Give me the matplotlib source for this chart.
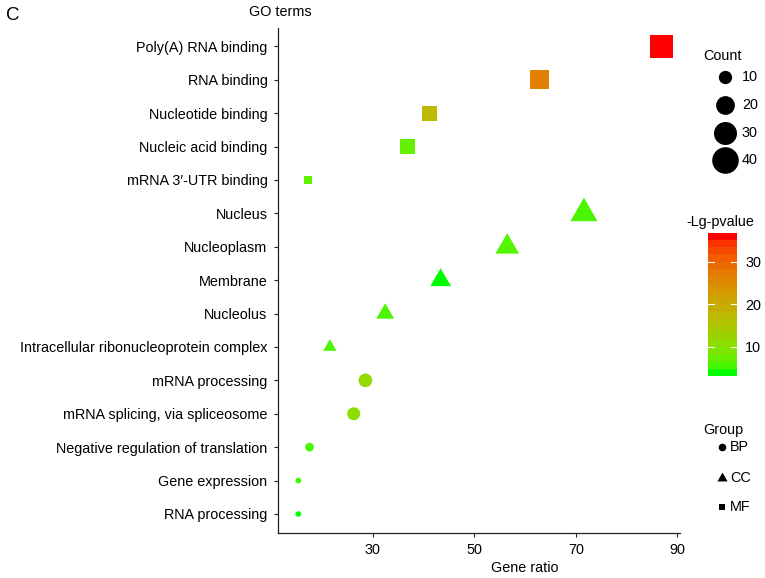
import numpy as np
import matplotlib
matplotlib.use("Agg")
import matplotlib.pyplot as plt
from matplotlib.path import Path
from matplotlib.colors import ListedColormap

plt.rcParams['font.family'] = ['Liberation Sans', 'DejaVu Sans']

# === データ（上から順） ===
terms = ["Poly(A) RNA binding", "RNA binding", "Nucleotide binding",
         "Nucleic acid binding", "mRNA 3\u2032-UTR binding",
         "Nucleus", "Nucleoplasm", "Membrane", "Nucleolus",
         "Intracellular ribonucleoprotein complex",
         "mRNA processing", "mRNA splicing, via spliceosome",
         "Negative regulation of translation", "Gene expression",
         "RNA processing"]
groups = ["MF", "MF", "MF", "MF", "MF",
          "CC", "CC", "CC", "CC", "CC",
          "BP", "BP", "BP", "BP", "BP"]
gene_ratio = [86.9, 62.9, 41.2, 36.9, 17.3,
              71.6, 56.5, 43.4, 32.5, 21.6,
              28.6, 26.3, 17.6, 15.4, 15.4]
counts = [38, 25, 16, 15, 5,
          23, 17.5, 13.3, 10, 5.6,
          10.6, 9.6, 4.3, 1.8, 1.8]
lg_pvalue = [36.7, 27.0, 17.5, 6.5, 6.0,
             5.0, 5.5, 3.2, 5.0, 5.0,
             11.0, 10.0, 5.0, 4.3, 3.3]

count_breaks = [10, 20, 30, 40]
color_ticks = [10, 20, 30]
group_order = ["BP", "CC", "MF"]

W, H = 765, 578


# === 色: green -> red を Lab 空間で補間 ===
def _f(t):
    d = 6 / 29
    return np.where(t > d ** 3, np.cbrt(t), t / (3 * d * d) + 4 / 29)


def _finv(t):
    d = 6 / 29
    return np.where(t > d, t ** 3, 3 * d * d * (t - 4 / 29))


M = np.array([[0.4124564, 0.3575761, 0.1804375],
              [0.2126729, 0.7151522, 0.0721750],
              [0.0193339, 0.1191920, 0.9503041]])
WHITE = np.array([0.95047, 1.0, 1.08883])


def rgb2lab(rgb):
    c = np.asarray(rgb, float)
    lin = np.where(c <= 0.04045, c / 12.92, ((c + 0.055) / 1.055) ** 2.4)
    xyz = M @ lin / WHITE
    fx, fy, fz = _f(xyz)
    return np.array([116 * fy - 16, 500 * (fx - fy), 200 * (fy - fz)])


def lab2rgb(lab):
    L, a, b = lab
    fy = (L + 16) / 116
    fx = fy + a / 500
    fz = fy - b / 200
    xyz = _finv(np.array([fx, fy, fz])) * WHITE
    lin = np.linalg.solve(M, xyz)
    lin = np.clip(lin, 0, 1)
    c = np.where(lin <= 0.0031308, 12.92 * lin, 1.055 * lin ** (1 / 2.4) - 0.055)
    return np.clip(c, 0, 1)


lab_lo = rgb2lab([0, 1, 0])
lab_hi = rgb2lab([1, 0, 0])
ramp = [lab2rgb(lab_lo + (lab_hi - lab_lo) * t) for t in np.linspace(0, 1, 256)]
cmap = ListedColormap(ramp)
vmin, vmax = min(lg_pvalue), max(lg_pvalue)

# 正三角形マーカー
TRI = Path([(0, 1), (-0.866, -0.5), (0.866, -0.5), (0, 1)],
           [Path.MOVETO, Path.LINETO, Path.LINETO, Path.CLOSEPOLY])
MARKERS = {"BP": "o", "CC": TRI, "MF": "s"}
AREA_K = {"BP": 1.0, "CC": 2.418, "MF": 0.785}   # 同じ面積になる係数


def marker_s(count, grp):
    d2 = 9.145 * np.asarray(count, float)   # 円の直径^2 (pt^2)
    return d2 * AREA_K[grp]


# === 描画 ===
fig = plt.figure(figsize=(W / 100, H / 100), dpi=100)
ax = fig.add_axes([278 / W, 45 / H, 402 / W, 505 / H])

n = len(terms)
ypos = np.arange(n)[::-1]
for g in group_order:
    idx = [i for i in range(n) if groups[i] == g]
    ax.scatter([gene_ratio[i] for i in idx], [ypos[i] for i in idx],
               s=[marker_s(counts[i], g) for i in idx],
               c=[lg_pvalue[i] for i in idx], cmap=cmap, vmin=vmin, vmax=vmax,
               marker=MARKERS[g], linewidths=0, zorder=3)

ax.set_xlim(11.4, 90.5)
ax.set_ylim(-0.57, n - 1 + 0.55)
ax.set_yticks(ypos)
ax.set_yticklabels(terms)
ax.set_xticks([30, 50, 70, 90])
for s in ["top", "right"]:
    ax.spines[s].set_visible(False)
for s in ["left", "bottom"]:
    ax.spines[s].set_linewidth(0.9)
    ax.spines[s].set_color("#222222")
ax.tick_params(axis="both", length=3, width=0.8, colors="#222222",
               labelsize=10.4, labelcolor="black", pad=4.5)
ax.tick_params(axis="x", pad=4)

# 全体オーバーレイ（ピクセル座標）
ov = fig.add_axes([0, 0, 1, 1], zorder=5)
ov.set_xlim(0, W)
ov.set_ylim(H, 0)
ov.axis("off")

ov.text(6, 16, "C", fontsize=13.5, ha="left", va="center")
ov.text(280, 12, "GO terms", fontsize=10.4, ha="center", va="center")
ov.text(525, 568, "Gene ratio", fontsize=10.4, ha="center", va="center")

# Count 凡例
ov.text(703, 56, "Count", fontsize=10.4, ha="left", va="center")
for k, cb in enumerate(count_breaks):
    yy = 77 + k * 27.8
    ov.scatter([725], [yy], s=marker_s(cb, "BP"), c="black", marker="o", linewidths=0)
    ov.text(742, yy, str(cb), fontsize=10.4, ha="left", va="center")

# -Lg-pvalue カラーバー
ov.text(720, 222, "-Lg-pvalue", fontsize=10.4, ha="center", va="center")
cax = fig.add_axes([708 / W, 1 - 376 / H, 29 / W, 143 / H], zorder=6)
grad = np.linspace(vmin, vmax, 20).reshape(-1, 1)
cax.imshow(grad, cmap=cmap, vmin=vmin, vmax=vmax, origin="lower", aspect="auto",
           extent=[0, 1, vmin, vmax], interpolation="nearest")
cax.set_xlim(0, 1)
cax.set_ylim(vmin, vmax)
cax.set_xticks([])
cax.yaxis.tick_right()
cax.set_yticks(color_ticks)
cax.tick_params(axis="y", length=0, labelsize=10.4, pad=6)
for s in cax.spines.values():
    s.set_visible(False)
for t in color_ticks:
    cax.plot([0, 0.2], [t, t], color="white", lw=0.8)
    cax.plot([0.8, 1], [t, t], color="white", lw=0.8)

# Group 凡例
ov.text(703, 430, "Group", fontsize=10.4, ha="left", va="center")
for g, yy in zip(group_order, [447, 478, 507]):
    ov.scatter([722], [yy], s=30 * AREA_K[g], c="black", marker=MARKERS[g], linewidths=0)
    ov.text(730, yy, g, fontsize=10.4, ha="left", va="center")

fig.savefig("out.png", dpi=100)
